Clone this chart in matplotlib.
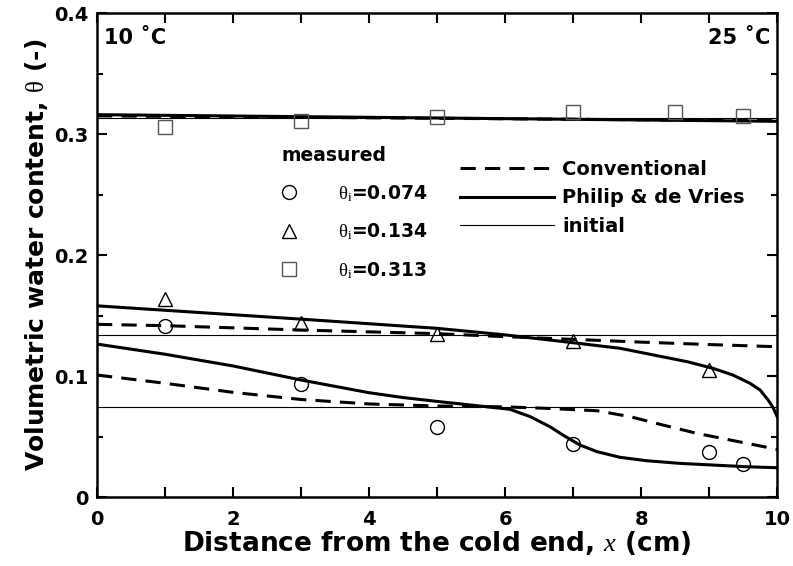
import numpy as np
import matplotlib
matplotlib.use('Agg')
import matplotlib.pyplot as plt
from matplotlib.ticker import MultipleLocator, FixedLocator
from matplotlib.lines import Line2D

plt.rcParams['font.family'] = ['DejaVu Sans']
plt.rcParams['font.weight'] = 'bold'
plt.rcParams['axes.labelweight'] = 'bold'
plt.rcParams['mathtext.fontset'] = 'custom'
plt.rcParams['mathtext.rm'] = 'Liberation Serif:weight=normal'
plt.rcParams['mathtext.it'] = 'Liberation Serif:italic:weight=normal'

# measured data
x_low = [1, 3, 5, 7, 9, 9.5]
theta_low = [0.141, 0.093, 0.058, 0.044, 0.037, 0.027]
x_mid = [1, 3, 5, 7, 9]
theta_mid = [0.164, 0.144, 0.135, 0.129, 0.105]
x_high = [1, 3, 5, 7, 8.5, 9.5]
theta_high = [0.306, 0.311, 0.314, 0.318, 0.318, 0.315]

# initial water contents
theta_init = [0.074, 0.134, 0.313]

# model curves
x_conv_low = [0, 1, 2, 3, 4, 5, 6, 6.6, 7.35, 7.84, 8.32, 8.82, 9.31, 10]
conv_low = [0.1008, 0.094, 0.0865, 0.0806, 0.0769, 0.0752, 0.0745, 0.0733, 0.0713,
            0.0664, 0.0595, 0.0526, 0.0471, 0.0394]
x_pdv_low = [0, 1, 2, 3, 4, 4.5, 5, 5.63, 6.07, 6.37, 6.66, 6.85, 7.1, 7.35, 7.69,
             8.08, 8.57, 9.06, 9.56, 10]
pdv_low = [0.1264, 0.118, 0.1083, 0.0967, 0.0862, 0.0822, 0.079, 0.0752, 0.0725,
           0.0664, 0.0581, 0.0512, 0.043, 0.0375, 0.0328, 0.030, 0.0278, 0.0264,
           0.025, 0.0242]
x_conv_mid = [0, 1, 3, 5, 6, 7, 8, 9, 10]
conv_mid = [0.1427, 0.1416, 0.138, 0.135, 0.1325, 0.1303, 0.128, 0.126, 0.1242]
x_pdv_mid = [0, 3, 5, 6, 7, 7.69, 8.18, 8.68, 9.06, 9.35, 9.6, 9.75, 9.87, 9.94, 10]
pdv_mid = [0.158, 0.147, 0.1394, 0.134, 0.1275, 0.1229, 0.1174, 0.1118, 0.1063,
           0.1008, 0.094, 0.0884, 0.080, 0.074, 0.0665]
x_model_high = [0, 10]
conv_high = [0.315, 0.311]
pdv_high = [0.316, 0.3105]

fig = plt.figure(figsize=(7.93, 5.66), dpi=100)
ax = fig.add_axes([0.1223, 0.1219, 0.8577, 0.8551])

dash = (5, 3)
ax.plot(x_conv_low, conv_low, '--', c='black', lw=2.2, dashes=dash)
ax.plot(x_conv_mid, conv_mid, '--', c='black', lw=2.2, dashes=dash)
ax.plot(x_model_high, conv_high, '--', c='black', lw=2.2, dashes=dash)
ax.plot(x_pdv_low, pdv_low, '-', c='black', lw=2.2)
ax.plot(x_pdv_mid, pdv_mid, '-', c='black', lw=2.2)
ax.plot(x_model_high, pdv_high, '-', c='black', lw=2.2)
for th in theta_init:
    ax.axhline(th, c='black', lw=0.8)

ax.plot(x_low, theta_low, 'o', ms=10, mfc='none', mec='black', mew=1.0, ls='none')
ax.plot(x_mid, theta_mid, '^', ms=10, mfc='none', mec='black', mew=1.0, ls='none')
ax.plot(x_high, theta_high, 's', ms=10, mfc='none', mec='#555555', mew=1.0, ls='none')

ax.set_xlim(0, 10)
ax.set_ylim(0, 0.4)
ax.xaxis.set_major_locator(FixedLocator([0, 2, 4, 6, 8, 10]))
ax.xaxis.set_minor_locator(MultipleLocator(1))
ax.yaxis.set_major_locator(FixedLocator([0, 0.1, 0.2, 0.3, 0.4]))
ax.yaxis.set_minor_locator(MultipleLocator(0.05))
ax.set_yticklabels(['0', '0.1', '0.2', '0.3', '0.4'])
ax.tick_params(which='both', direction='in', top=True, right=True, width=1.5,
               labelsize=14, pad=6)
ax.tick_params(axis='x', pad=9)
ax.tick_params(which='major', length=7)
ax.tick_params(axis='y', which='minor', length=4)
ax.tick_params(axis='x', which='minor', length=7)
for sp in ax.spines.values():
    sp.set_linewidth(1.8)

ax.set_xlabel(r'Distance from the cold end, $x$ (cm)', fontsize=19, labelpad=0)
ax.set_ylabel(r'Volumetric water content, $\mathrm{\theta}$ (-)', fontsize=18, labelpad=3)

ax.text(0.01, 0.948, '10 ˚C', transform=ax.transAxes, fontsize=15, va='center', ha='left')
ax.text(0.99, 0.948, '25 ˚C', transform=ax.transAxes, fontsize=15, va='center', ha='right')

marker_handles = [
    Line2D([], [], marker='o', ms=10, mfc='none', mec='black', ls='none'),
    Line2D([], [], marker='^', ms=10, mfc='none', mec='black', ls='none'),
    Line2D([], [], marker='s', ms=10, mfc='none', mec='#555555', ls='none'),
]
marker_labels = [r'$\mathrm{\theta_i}$=0.074', r'$\mathrm{\theta_i}$=0.134',
                 r'$\mathrm{\theta_i}$=0.313']
leg1 = ax.legend(marker_handles, marker_labels, title='measured', loc='upper left',
                 bbox_to_anchor=(0.272, 0.725), frameon=False, fontsize=13.5,
                 title_fontproperties={'weight': 'bold', 'size': 13.5},
                 alignment='left', handlelength=0.8, handletextpad=2.2,
                 labelspacing=0.95, borderpad=0, borderaxespad=0)
ax.add_artist(leg1)

line_handles = [
    Line2D([], [], c='black', lw=2.2, ls='--', dashes=dash),
    Line2D([], [], c='black', lw=2.2),
    Line2D([], [], c='black', lw=0.8),
]
ax.legend(line_handles, ['Conventional', 'Philip & de Vries', 'initial'],
          loc='upper left', bbox_to_anchor=(0.534, 0.697), frameon=False, fontsize=14,
          handlelength=4.8, handletextpad=0.45, labelspacing=0.5, borderpad=0,
          borderaxespad=0)

fig.savefig('out.png', dpi=100)
